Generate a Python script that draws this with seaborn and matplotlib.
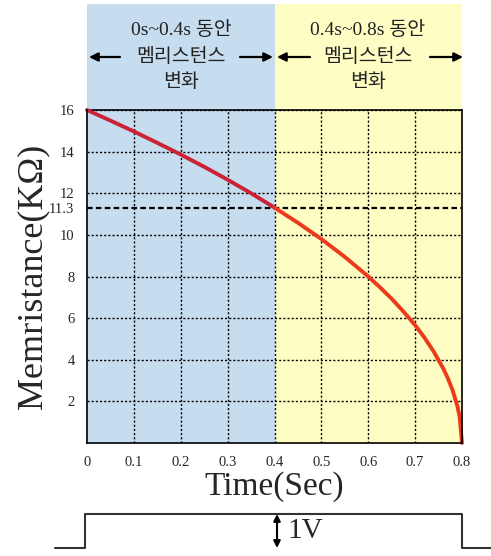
import matplotlib
matplotlib.use("Agg")
import matplotlib.pyplot as plt
import seaborn as sns
import pandas as pd
from matplotlib.patches import Rectangle

# ----------------------------
# data
# ----------------------------
time_s = [0, 0.05, 0.1, 0.15, 0.2, 0.25, 0.3, 0.35, 0.4,
          0.45, 0.5, 0.55, 0.6, 0.625, 0.65, 0.675, 0.7, 0.72, 0.74,
          0.76, 0.77, 0.78, 0.79, 0.795, 0.8]
memristance = [16, 15.49, 14.97, 14.42, 13.86, 13.27, 12.65, 12.0, 11.31,
               10.58, 9.8, 8.94, 8.0, 7.48, 6.93, 6.32, 5.66, 5.06, 4.38,
               3.58, 3.1, 2.53, 1.79, 1.26, 0]
x_ticks = [0, 0.1, 0.2, 0.3, 0.4, 0.5, 0.6, 0.7, 0.8]
y_ticks = [2, 4, 6, 8, 10, 11.3, 12, 14, 16]
y_labels = ["2", "4", "6", "8", "10", "11.3", "12", "14", "16"]
mid_value = 11.3
periods = [(0, 0.4), (0.4, 0.8)]
period_titles = ["0s~0.4s 동안\n멤리스턴스\n변화", "0.4s~0.8s 동안\n멤리스턴스\n변화"]

df = pd.DataFrame({"Time": time_s, "Memristance": memristance})
# split curve into the two periods (shared point at 0.4 s)
parts = []
for i, (a, b) in enumerate(periods):
    p = df[(df.Time >= a) & (df.Time <= b)].copy()
    p["period"] = i
    parts.append(p)
curve = pd.concat(parts, ignore_index=True)

sns.set_style("white")
serif = ["Liberation Serif", "DejaVu Serif"]
kor = ["Liberation Serif", "Noto Sans CJK KR"]

fig = plt.figure(figsize=(4.91, 5.56), dpi=100)
ax = fig.add_axes([87 / 491, 1 - 443 / 556, 375 / 491, 333 / 556])

colors = ["#c6dcef", "#fdfdc4"]
for (a, b), c in zip(periods, colors):
    ax.add_patch(Rectangle((a, 0), b - a, 21.1, facecolor=c, edgecolor="none",
                           clip_on=False, zorder=0))

ax.set_xlim(0, 0.8)
ax.set_ylim(0, 16)

# grid
for x in x_ticks[1:-1]:
    ax.axvline(x, color="black", ls=(0, (1.5, 1.5)), lw=1, zorder=1)
for y in y_ticks:
    if y == mid_value:
        continue
    ax.axhline(y, color="black", ls=(0, (1.5, 1.5)), lw=1, zorder=1)
ax.axhline(mid_value, color="black", ls=(0, (2.5, 1.5)), lw=1.6, zorder=1)

sns.lineplot(data=curve, x="Time", y="Memristance", hue="period",
             palette=["#cc2238", "#ee3a1c"], ax=ax, lw=2.8, zorder=3,
             clip_on=False, legend=False, solid_joinstyle="round",
             solid_capstyle="round")

ax.set_xticks(x_ticks)
ax.set_xticklabels([f"{v:g}" for v in x_ticks], family=serif, fontsize=10.5)
ax.set_yticks(y_ticks)
ax.set_yticklabels(y_labels, family=serif, fontsize=10.5)
ax.tick_params(length=0, pad=9)
ax.set_xlabel("Time(Sec)", family=serif, fontsize=24, labelpad=2)
ax.set_ylabel("Memristance(KΩ)", family=serif, fontsize=26, labelpad=0)
for s in ax.spines.values():
    s.set_color("black")
    s.set_linewidth(1.2)
    s.set_zorder(4)
ax.spines["top"].set_visible(False)
ax.plot([0, 0.8], [16, 16], color="black", lw=1.2, clip_on=False, zorder=2)

# overlay in pixel coords for headings and pulse
ov = fig.add_axes([0, 0, 1, 1], facecolor="none")
ov.set_xlim(0, 491)
ov.set_ylim(556, 0)
ov.axis("off")

centers = [181, 368]
for cx, title in zip(centers, period_titles):
    lines = title.split("\n")
    for ln, yy in zip(lines, [30, 57, 82]):
        ov.text(cx, yy, ln, ha="center", va="center", fontsize=14,
                family=kor, color="#222222")
arrows = [(120, 89), (240, 273), (310, 277), (430, 463)]
for x0, x1 in arrows:
    ov.annotate("", xy=(x1, 57), xytext=(x0, 57),
                arrowprops=dict(arrowstyle="-|>", color="black", lw=1.6,
                                mutation_scale=13, shrinkA=0, shrinkB=0))

# voltage pulse
pulse_x = [55, 85, 85, 462, 462, 491]
pulse_y = [548, 548, 514, 514, 548, 548]
ov.plot(pulse_x, pulse_y, color="#333333", lw=1.5)
ov.annotate("", xy=(277, 514), xytext=(277, 548),
            arrowprops=dict(arrowstyle="<|-|>", color="black", lw=1.5,
                            mutation_scale=10, shrinkA=0, shrinkB=0))
ov.text(287, 531, "1V", ha="left", va="center", fontsize=21, family=serif)

fig.savefig("out.png", dpi=100)
